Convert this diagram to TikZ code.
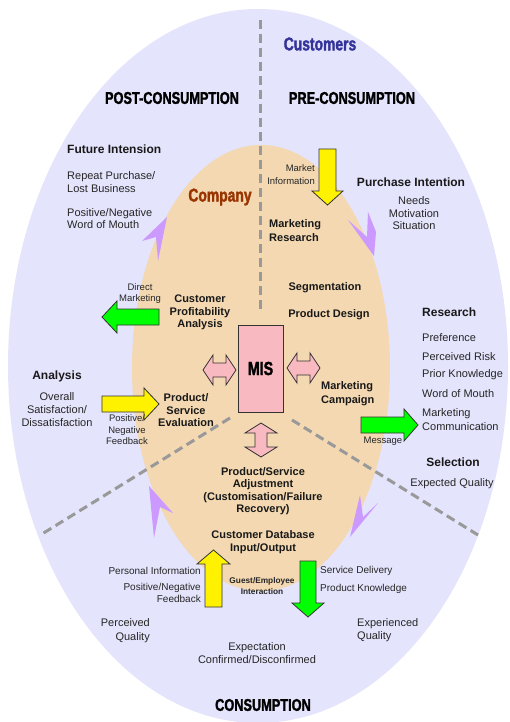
\documentclass[tikz,border=0pt]{standalone}
\usepackage{fontspec}
\setmainfont{Liberation Sans}
\newfontfamily\impactfont{Liberation Sans}[UprightFont=* Bold, FakeStretch=0.75, FakeBold=1.6]
\definecolor{lav}{HTML}{E4E4FC}
\definecolor{tan}{HTML}{F3D8B1}
\definecolor{lilac}{HTML}{CC99FF}
\definecolor{pinkbox}{HTML}{F9B9C0}
\definecolor{dash}{HTML}{999999}
\definecolor{custblue}{HTML}{333399}
\definecolor{compbrown}{HTML}{993300}
\definecolor{txt}{HTML}{262626}
\definecolor{arrowline}{HTML}{333333}
\tikzset{
  reg/.style={font=\fontsize{11}{13}\selectfont, text=txt, inner sep=0pt},
  small/.style={font=\fontsize{9.5}{11.5}\selectfont, text=txt, inner sep=0pt},
  smallb/.style={font=\fontsize{8.3}{11}\selectfont\bfseries, text=txt, inner sep=0pt},
  med/.style={font=\fontsize{10}{12}\selectfont, text=txt, inner sep=0pt},
  head/.style={font=\fontsize{12}{14}\selectfont\bfseries, text=black!90, inner sep=0pt},
  inb/.style={font=\fontsize{11}{12.5}\selectfont\bfseries, text=black!90, inner sep=0pt},
  phase/.style={font=\impactfont\fontsize{17}{20}\selectfont, text=black, inner sep=0pt},
  blockarrow/.style={draw=arrowline, line width=0.8pt, line join=miter},
  yel/.style={blockarrow, fill=yellow},
  grn/.style={blockarrow, fill=green},
  pnk/.style={blockarrow, fill=pinkbox},
  lil/.style={fill=lilac},
  sep/.style={draw=dash, line width=3pt, dash pattern=on 9pt off 5pt}
}
\begin{document}
\begin{tikzpicture}[x=1pt,y=-1pt]
\useasboundingbox (0,0) rectangle (509,722);
\fill[white] (0,0) rectangle (509,722);
% ellipses
\fill[lav] (258,366) ellipse [x radius=250pt, y radius=357pt];
\fill[tan] (261,368) ellipse [x radius=129pt, y radius=223pt];
% separators
\coordinate (v1) at (260,20); \coordinate (v2) at (260,310);
\coordinate (l1) at (230,418); \coordinate (l2) at (42,534);
\coordinate (r1) at (292,420); \coordinate (r2) at (478,535);
\draw[sep] (v1) -- (v2);
\draw[sep] (l1) -- (l2);
\draw[sep] (r1) -- (r2);
% lilac arrowheads
\fill[lil] (167,217) -- (142,241) -- (156,237) -- (158,261) -- cycle;
\fill[lil] (374,256) -- (348,220) -- (367,237) -- (368,212) -- (376,232) -- cycle;
\fill[lil] (149,486) -- (173,513) -- (160,507) -- (154,538) -- cycle;
\fill[lil] (350,537) -- (360,495) -- (363,517) -- (378,503) -- cycle;
% block arrows
\draw[grn] (159,309) -- (117,309) -- (117,301) -- (102,317) -- (117,333) -- (117,325) -- (159,325) -- cycle;
\draw[yel] (319,149) -- (336,149) -- (336,191) -- (343,191) -- (327.5,205) -- (312,191) -- (319,191) -- cycle;
\draw[grn] (361,417) -- (404,417) -- (404,409) -- (418,425) -- (404,441) -- (404,433) -- (361,433) -- cycle;
\draw[yel] (102,396) -- (144,396) -- (144,388) -- (159,404) -- (144,420) -- (144,412) -- (102,412) -- cycle;
\draw[yel] (205,607) -- (205,564) -- (197,564) -- (213.5,550) -- (230,564) -- (222,564) -- (222,607) -- cycle;
\draw[grn] (300,561) -- (316,561) -- (316,603) -- (324,603) -- (308,617) -- (292,603) -- (300,603) -- cycle;
% pink double arrows
\draw[pnk] (203,370) -- (213,355) -- (213,363) -- (226,363) -- (226,355) -- (236,370) -- (226,385) -- (226,377) -- (213,377) -- (213,385) -- cycle;
\draw[pnk] (287,368) -- (297,353) -- (297,361) -- (310,361) -- (310,353) -- (320,368) -- (310,383) -- (310,375) -- (297,375) -- (297,383) -- cycle;
\draw[pnk] (261,423) -- (277,433) -- (267,433) -- (267,447) -- (277,447) -- (261,457) -- (245,447) -- (255,447) -- (255,433) -- (245,433) -- cycle;
% MIS
\node[draw=arrowline, line width=0.8pt, fill=pinkbox, minimum width=45pt, minimum height=87pt, inner sep=0pt,
  font=\impactfont\fontsize{19}{22}\selectfont] (mis) at (260.5,368.5) {MIS};
% headings
\node[phase, text=custblue, font=\impactfont\fontsize{18.5}{20}\selectfont] (cust) at (320,44) {Customers};
\node[phase] (post) at (172,98) {POST-CONSUMPTION};
\node[phase] (pre) at (352,98) {PRE-CONSUMPTION};
\node[phase] (cons) at (263,705) {CONSUMPTION};
\node[phase, text=compbrown, font=\impactfont\fontsize{18.5}{20}\selectfont] (comp) at (220,197) {Company};
% outer texts
\node[head, anchor=west] (fi) at (67,149) {Future Intension};
\node[reg, anchor=west, align=left, font=\fontsize{11}{12.5}\selectfont] (rp) at (67,182) {Repeat Purchase/\\Lost Business};
\node[reg, anchor=west, align=left, font=\fontsize{11}{12}\selectfont] (wm) at (67,218.5) {Positive/Negative\\Word of Mouth};
\node[head] (pi) at (411,182) {Purchase Intention};
\node[reg, align=center, font=\fontsize{11}{12.5}\selectfont] (nms) at (414,213.5) {Needs\\Motivation\\Situation};
\node[head, anchor=west] (res) at (422,312) {Research};
\node[reg, anchor=west] (pref) at (422,338) {Preference};
\node[reg, anchor=west] (risk) at (422,357) {Perceived Risk};
\node[reg, anchor=west] (prior) at (422,375) {Prior Knowledge};
\node[reg, anchor=west] (wom) at (422,394) {Word of Mouth};
\node[reg, anchor=west, align=left, font=\fontsize{11}{14}\selectfont] (mc) at (422,419.5) {Marketing\\Communication};
\node[head] (sel) at (453,462) {Selection};
\node[reg] (eq) at (452,484) {Expected Quality};
\node[head] (ana) at (57,376) {Analysis};
\node[reg, align=center, font=\fontsize{11}{13}\selectfont] (osd) at (57,410) {Overall\\Satisfaction/\\Dissatisfaction};
\node[reg, anchor=east, align=right, font=\fontsize{11}{14}\selectfont] (pq) at (150,631) {Perceived\\Quality};
\node[reg, anchor=west, align=left, font=\fontsize{11}{13}\selectfont] (exq) at (357,630.5) {Experienced\\Quality};
\node[reg, align=center, font=\fontsize{11}{13}\selectfont] (ecd) at (257,653.5) {Expectation\\Confirmed/Disconfirmed};
\node[med, anchor=east] (pinf) at (201,571) {Personal Information};
\node[med, anchor=east, align=right] (pnf) at (201,593) {Positive/Negative\\Feedback};
\node[med, anchor=west] (sd) at (320,571) {Service Delivery};
\node[med, anchor=west] (pk) at (320,589) {Product Knowledge};
% small arrow labels
\node[small, align=center] (dm) at (140,293.5) {Direct\\Marketing};
\node[small, anchor=east, align=right, font=\fontsize{9.5}{12.5}\selectfont] (mi) at (315,174.5) {Market\\Information};
\node[small, align=center] (pnfb) at (127,430) {Positive/\\Negative\\Feedback};
\node[small] (msg) at (383,441) {Message};
\node[smallb, align=center] (gei) at (262,586.5) {Guest/Employee\\Interaction};
% inner bold texts
\node[inb, anchor=west, align=left, font=\fontsize{11}{14}\selectfont\bfseries] (mr) at (269,231) {Marketing\\Research};
\node[inb] (seg) at (325,288) {Segmentation};
\node[inb] (pd) at (329,315) {Product Design};
\node[inb, align=center] (cpa) at (200,312.5) {Customer\\Profitability\\Analysis};
\node[inb, anchor=west, align=left, font=\fontsize{11}{14}\selectfont\bfseries] (mcp) at (321,394) {Marketing\\Campaign};
\node[inb, align=center] (pse) at (186,410.5) {Product/\\Service\\Evaluation};
\node[inb, align=center] (psa) at (263,491) {Product/Service\\Adjustment\\(Customisation/Failure\\Recovery)};
\node[inb, align=center] (cdb) at (263,542) {Customer Database\\Input/Output};
\end{tikzpicture}
\end{document}
